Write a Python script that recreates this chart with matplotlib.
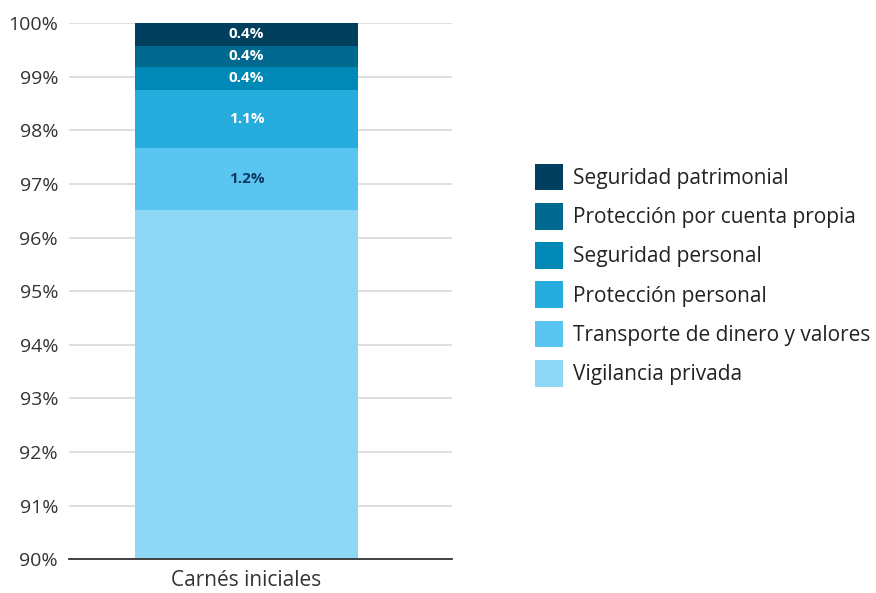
import matplotlib
matplotlib.use("Agg")
import matplotlib.pyplot as plt
from matplotlib.patches import Patch

plt.rcParams['font.family'] = ['Open Sans', 'DejaVu Sans']

# Datos (porcentaje de carnés iniciales por modalidad)
categoria = "Carnés iniciales"
modalidades = ["Vigilancia privada", "Transporte de dinero y valores", "Protección personal",
               "Seguridad personal", "Protección por cuenta propia", "Seguridad patrimonial"]
valores = [96.51, 1.16, 1.08, 0.44, 0.39, 0.42]
colores = ["#8ED8F6", "#5BC5F2", "#27ACDE", "#0089B6", "#006990", "#003F5E"]
color_texto = ["#0D3A5C", "#0D3A5C", "white", "white", "white", "white"]
yticks = [90, 91, 92, 93, 94, 95, 96, 97, 98, 99, 100]

fig = plt.figure(figsize=(8.76, 5.93), dpi=100)
ax = fig.add_axes([0.079, 0.057, 0.437, 0.904])

base = 0
for nombre, v, c, tc in zip(modalidades, valores, colores, color_texto):
    ax.bar(0, v, bottom=base, width=1.0, color=c, label=nombre, zorder=2)
    ax.text(0, base + v / 2, f"{v:.1f}%", ha="center", va="center", color=tc,
            fontsize=11, fontweight="bold", zorder=3)
    base += v

ax.set_xlim(-0.795, 0.922)
ax.set_ylim(90, 100)
ax.set_yticks(yticks)
ax.set_yticklabels([f"{t}%" for t in yticks], fontsize=14, color="#333333")
ax.set_xticks([0])
ax.set_xticklabels([categoria], fontsize=15, color="#333333")
ax.tick_params(axis="both", length=0)
ax.tick_params(axis="x", pad=8)
ax.tick_params(axis="y", pad=8)

ax.grid(axis="y", color="#D9D9D9", linewidth=1.2, zorder=0)
ax.set_axisbelow(True)
for s in ["top", "right", "left"]:
    ax.spines[s].set_visible(False)
ax.spines["bottom"].set_color("#333333")
ax.spines["bottom"].set_linewidth(1.3)
ax.spines["bottom"].set_zorder(4)

handles = [Patch(facecolor=c, label=m) for m, c in zip(modalidades, colores)][::-1]
fig.legend(handles=handles, loc="center left", bbox_to_anchor=(0.589, 0.536),
           frameon=False, fontsize=15, handlelength=1.35, handleheight=1.6,
           handletextpad=0.5, labelspacing=0.6, labelcolor="#222222")

fig.savefig("out.png", dpi=100)
